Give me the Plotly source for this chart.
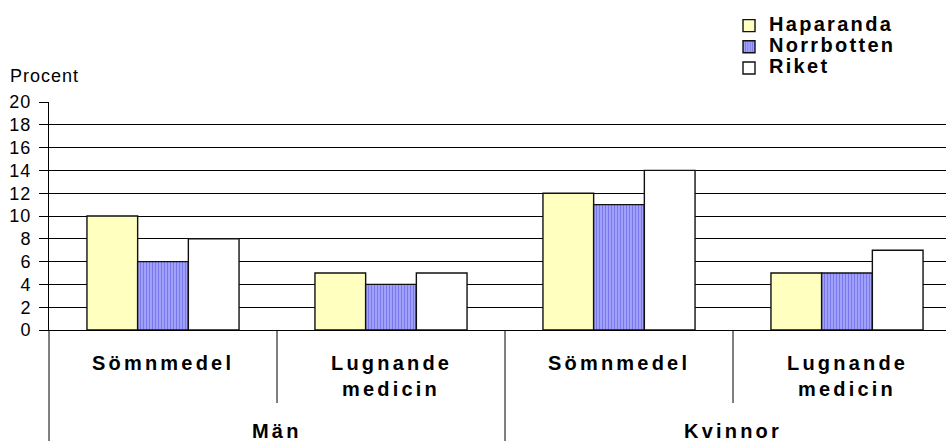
import plotly.graph_objects as go

# Data
groups = ["Män", "Män", "Kvinnor", "Kvinnor"]
categories = ["Sömnmedel", "Lugnande medicin", "Sömnmedel", "Lugnande medicin"]
haparanda = [10, 5, 12, 5]
norrbotten = [6, 4, 11, 5]
riket = [8, 5, 14, 7]
y_ticks = [0, 2, 4, 6, 8, 10, 12, 14, 16, 18, 20]

FONT = "Arial, Liberation Sans, sans-serif"
W, H = 946, 441
M_L, M_R, M_T, M_B = 49, 0, 102, 111
PLOT_W = W - M_L - M_R
PLOT_H = H - M_T - M_B
BOLD_SIZE, BOLD_SPACING = 20, 3.2
LEGEND_SPACING = 2.3


def spaced(text, px):
    return f"<span style='letter-spacing:{px}px'>{text}</span>"


def below(px):
    """Paper y for a pixel distance below the x axis."""
    return -px / PLOT_H


x_pos = list(range(len(categories)))

fig = go.Figure()
fig.add_bar(
    x=x_pos, y=haparanda, name=spaced("Haparanda", LEGEND_SPACING),
    marker=dict(color="#FFFFC0", line=dict(color="#111111", width=1.4)),
)
fig.add_bar(
    x=x_pos, y=norrbotten, name=spaced("Norrbotten", LEGEND_SPACING),
    marker=dict(
        color="#A0A0FF",
        pattern=dict(shape="|", fgcolor="#3C3CE0", bgcolor="#B4B4FF",
                     size=3, solidity=0.55),
        line=dict(color="#111111", width=1.4),
    ),
)
fig.add_bar(
    x=x_pos, y=riket, name=spaced("Riket", LEGEND_SPACING),
    marker=dict(color="#FFFFFF", line=dict(color="#111111", width=1.4)),
)

shapes = []
annotations = []

# Left axis line continues down through the label area
shapes.append(dict(type="line", xref="paper", yref="paper",
                   x0=0, x1=0, y0=0, y1=below(120),
                   line=dict(color="black", width=1)))

# Dividers between categories (short) and between groups (full height)
for i in range(len(categories) - 1):
    same_group = groups[i] == groups[i + 1]
    shapes.append(dict(type="line", xref="x", yref="paper",
                       x0=i + 0.5, x1=i + 0.5, y0=0,
                       y1=below(73) if same_group else below(120),
                       line=dict(color="black", width=1)))

bold_font = dict(family=FONT, size=BOLD_SIZE, color="black", weight="bold")

# Category labels (one annotation per word line)
for i, label in enumerate(categories):
    for j, word in enumerate(label.split(" ")):
        annotations.append(dict(
            x=i, xref="x", y=below(33 + 26 * j), yref="paper",
            text=spaced(word, BOLD_SPACING), showarrow=False,
            xanchor="center", yanchor="middle", font=bold_font,
        ))

# Group labels
seen = []
for g in groups:
    if g not in seen:
        seen.append(g)
for g in seen:
    idx = [i for i, v in enumerate(groups) if v == g]
    annotations.append(dict(
        x=sum(idx) / len(idx), xref="x", y=below(101), yref="paper",
        text=spaced(g, BOLD_SPACING), showarrow=False,
        xanchor="center", yanchor="middle", font=bold_font,
    ))

# Axis title
annotations.append(dict(
    x=(8 - M_L) / PLOT_W, xref="paper", y=(H - M_B - 76) / PLOT_H, yref="paper",
    text=spaced("Procent", 1.0), showarrow=False,
    xanchor="left", yanchor="middle",
    font=dict(family=FONT, size=18, color="black"),
))

fig.update_layout(
    width=W, height=H,
    margin=dict(l=M_L, r=M_R, t=M_T, b=M_B, autoexpand=False),
    paper_bgcolor="white", plot_bgcolor="white",
    barmode="group", bargap=0.333, bargroupgap=0,
    font=dict(family=FONT, color="black"),
    showlegend=True,
    legend=dict(
        xref="container", yref="container",
        x=729 / W, y=1 - 10 / H, xanchor="left", yanchor="top",
        font=dict(family=FONT, size=14, color="black", weight="bold"),
        bgcolor="rgba(0,0,0,0)", borderwidth=0,
        itemclick=False, itemdoubleclick=False,
    ),
    xaxis=dict(
        range=[-0.5, -0.5 + PLOT_W / 228], showgrid=False,
        showticklabels=False, ticks="", zeroline=False,
        showline=True, linecolor="black", linewidth=1, fixedrange=True,
    ),
    yaxis=dict(
        range=[0, 20], tickvals=y_ticks,
        ticktext=[spaced(str(v), 1.0) for v in y_ticks],
        tickfont=dict(family=FONT, size=18, color="black"),
        ticks="outside", ticklen=9, tickcolor="black", tickwidth=1,
        ticklabelstandoff=4,
        showgrid=True, gridcolor="black", gridwidth=1,
        zeroline=True, zerolinecolor="black", zerolinewidth=1,
        showline=True, linecolor="black", linewidth=1,
        automargin=False, fixedrange=True,
    ),
    shapes=shapes,
    annotations=annotations,
)

# Legend text is drawn larger than the legend's base font so rows stay compact
for tr in fig.data:
    tr.name = f"<span style='font-size:{BOLD_SIZE}px'>{tr.name}</span>"

fig.write_html("out.html", config=dict(displayModeBar=False))
